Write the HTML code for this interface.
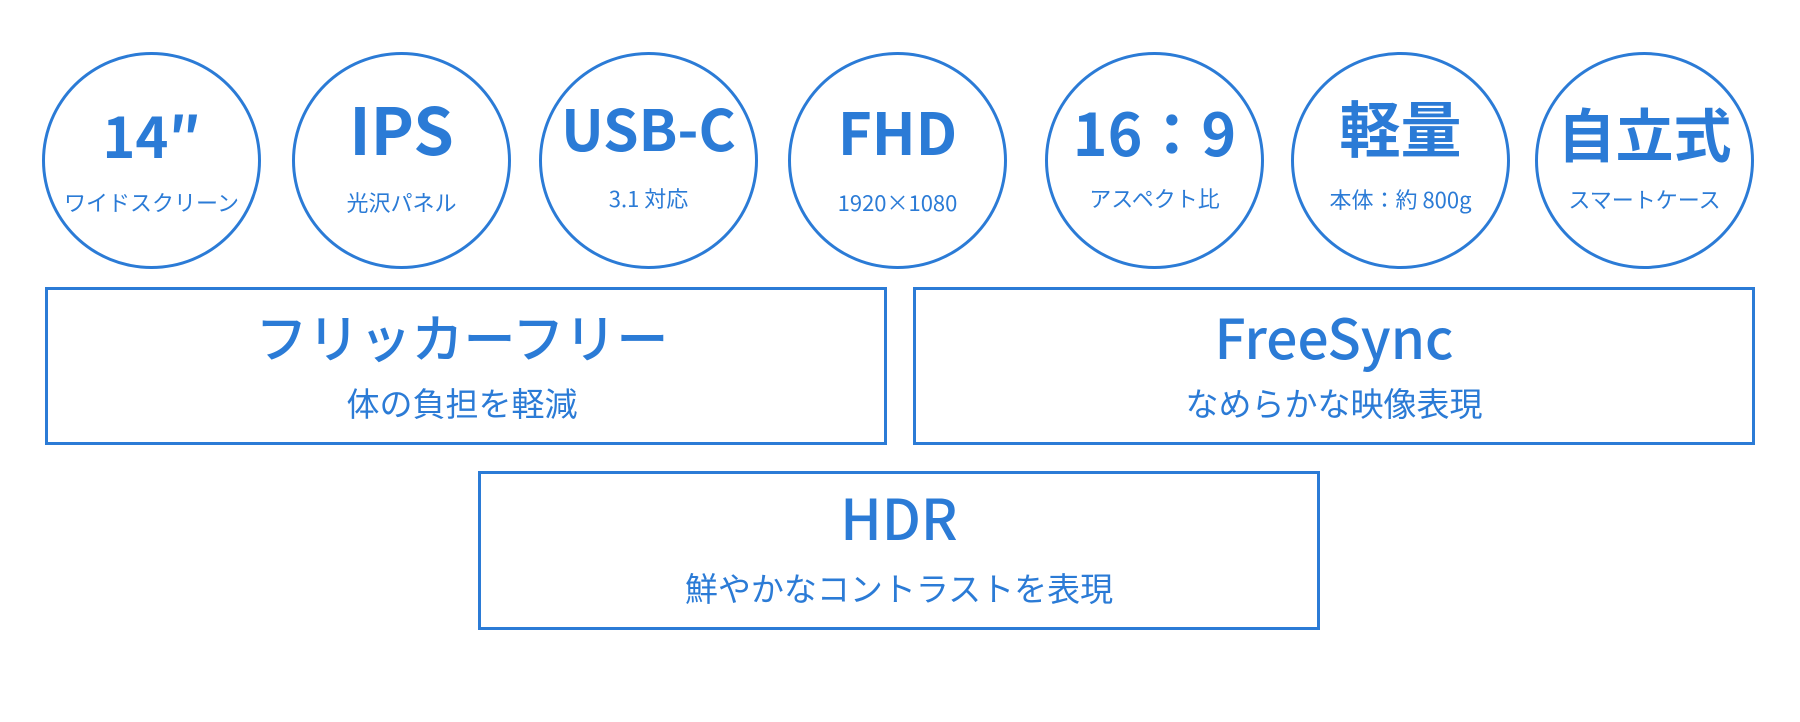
<!DOCTYPE html>
<html><head><meta charset="utf-8"><style>
body{margin:0;width:1800px;height:722px;background:#fff;position:relative;overflow:hidden;font-family:"Noto Sans CJK JP","Liberation Sans",sans-serif;color:#2b7bd6}
.c{position:absolute;width:213px;height:211px;border:3px solid #2b7bd6;border-radius:50%;top:52px}
.t{position:absolute;left:0;right:0;text-align:center;white-space:nowrap;line-height:1}
.big{font-weight:700;top:48px;font-size:58px}
.sm{top:136px;font-size:22px}
.b{position:absolute;border:3px solid #2b7bd6;height:152px;top:287px}
.bt{font-size:52px;font-weight:500;top:20px}
.bs{font-size:33px;top:96px}
</style></head><body>
<div class="c" style="left:42px"><div class="t big" style="font-size:56px;top:52px">14″</div><div class="t sm">ワイドスクリーン</div></div>
<div class="c" style="left:292px"><div class="t big" style="font-size:65px;top:40px">IPS</div><div class="t sm">光沢パネル</div></div>
<div class="c" style="left:539px"><div class="t big" style="font-size:57px;top:44px">USB-C</div><div class="t sm" style="top:132px">3.1 対応</div></div>
<div class="c" style="left:788px"><div class="t big" style="font-size:58px;top:46px">FHD</div><div class="t sm">1920×1080</div></div>
<div class="c" style="left:1045px"><div class="t big" style="font-size:59px;top:46px">16：9</div><div class="t sm" style="top:132px">アスペクト比</div></div>
<div class="c" style="left:1291px"><div class="t big" style="font-size:61px;top:40px">軽量</div><div class="t sm" style="top:133px">本体：約 800g</div></div>
<div class="c" style="left:1535px"><div class="t big" style="font-size:58px;top:48px">自立式</div><div class="t sm" style="top:133px">スマートケース</div></div>
<div class="b" style="left:45px;width:836px"><div class="t bt" style="margin-left:-8px">フリッカーフリー</div><div class="t bs" style="margin-left:-8px">体の負担を軽減</div></div>
<div class="b" style="left:913px;width:836px"><div class="t bt" style="font-size:55px;top:18px">FreeSync</div><div class="t bs">なめらかな映像表現</div></div>
<div class="b" style="left:478px;width:836px;top:471px;height:153px"><div class="t bt" style="font-size:56px;top:15px">HDR</div><div class="t bs" style="top:97px">鮮やかなコントラストを表現</div></div>
</body></html>
